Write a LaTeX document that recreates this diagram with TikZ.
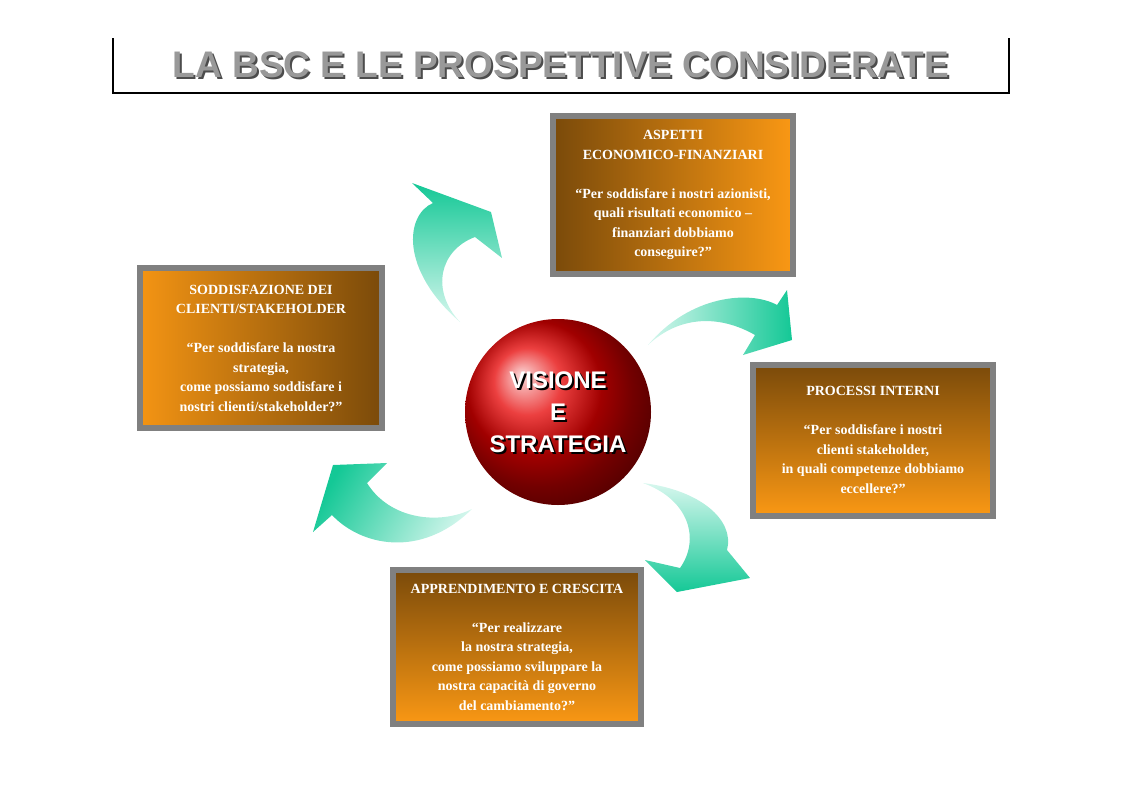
\documentclass[tikz,border=0pt]{standalone}
\usepackage{fontspec}
\setmainfont{Liberation Serif}
\setsansfont{Liberation Sans}
\usetikzlibrary{positioning}
\definecolor{brownish}{RGB}{122,74,10}
\definecolor{orangeish}{RGB}{250,152,20}
\definecolor{arrowgreen}{RGB}{20,200,150}
\definecolor{arrowlight}{RGB}{215,247,238}
\tikzstyle{pbox} = [rectangle, draw=gray, line width=6pt, align=center, text=white, font=\fontsize{14}{19.5}\selectfont\bfseries, inner sep=2pt]
\tikzstyle{greenarrow} = [draw=none]

\begin{document}
\begin{tikzpicture}[x=1pt, y=-1pt]
  \useasboundingbox (0,0) rectangle (1123,793);
  % title
    \draw [line width=1.5pt] (113,38) -- (113,93) -- (1009,93) -- (1009,38);
    \node [font=\sffamily\bfseries\fontsize{37}{40}\selectfont, text=black!70] at (563,67) {LA BSC E LE PROSPETTIVE CONSIDERATE};
    \node (title) [font=\sffamily\bfseries\fontsize{37}{40}\selectfont, text=black!40] at (561,65) {LA BSC E LE PROSPETTIVE CONSIDERATE};
  % boxes
    \node (finance) [pbox, minimum width=240pt, minimum height=158pt, left color=brownish, right color=orangeish] at (673,195)
      {ASPETTI\\ ECONOMICO-FINANZIARI\\[19.5pt] “Per soddisfare i nostri azionisti,\\ quali risultati economico –\\ finanziari dobbiamo\\ conseguire?”};
    \node (clients) [pbox, minimum width=242pt, minimum height=160pt, left color=orangeish!95!brownish, right color=brownish] at (261,348)
      {SODDISFAZIONE DEI\\ CLIENTI/STAKEHOLDER\\[19.5pt] “Per soddisfare la nostra\\ strategia,\\ come possiamo soddisfare i\\ nostri clienti/stakeholder?”};
    \node (processes) [pbox, minimum width=240pt, minimum height=151pt, top color=brownish, bottom color=orangeish] at (873,440)
      {PROCESSI INTERNI\\[19.5pt] “Per soddisfare i nostri\\ clienti stakeholder,\\ in quali competenze dobbiamo\\ eccellere?”};
    \node (learning) [pbox, minimum width=248pt, minimum height=154pt, top color=brownish, bottom color=orangeish] at (517,647)
      {APPRENDIMENTO E CRESCITA\\[19.5pt] “Per realizzare\\ la nostra strategia,\\ come possiamo sviluppare la\\ nostra capacità di governo\\ del cambiamento?”};
  % sphere
    \shade [ball color=red!90!black] (558,412) circle (93);
    \node [font=\sffamily\bfseries\fontsize{24}{32}\selectfont, align=center, text=black] at (560,414) {VISIONE\\ E\\ STRATEGIA};
    \node (vision) [font=\sffamily\bfseries\fontsize{24}{32}\selectfont, align=center, text=white] at (558,412) {VISIONE\\ E\\ STRATEGIA};
  % arrows
    \shade [greenarrow, top color=arrowgreen, bottom color=arrowlight] (460,322) .. controls (400,270) and (405,215) .. (433,203)
      -- (412,183) -- (491,212) -- (502,258) -- (475,237) .. controls (440,250) and (430,290) .. (460,322) -- cycle;
    \shade [greenarrow, left color=arrowlight, right color=arrowgreen] (648,345) .. controls (690,295) and (750,290) .. (777,305)
      -- (787,290) -- (792,340) -- (743,355) -- (755,335) .. controls (720,315) and (680,315) .. (648,345) -- cycle;
    \shade [greenarrow, top color=arrowlight, bottom color=arrowgreen] (643,483) .. controls (700,490) and (735,520) .. (727,550)
      -- (750,578) -- (677,592) -- (645,560) -- (680,568) .. controls (700,540) and (690,500) .. (643,483) -- cycle;
    \shade [greenarrow, left color=arrowgreen, right color=arrowlight, shading angle=60] (472,509) .. controls (420,560) and (360,545) .. (332,515)
      -- (313,532) -- (333,465) -- (387,463) -- (367,483) .. controls (390,520) and (440,525) .. (472,509) -- cycle;
\end{tikzpicture}
\end{document}
